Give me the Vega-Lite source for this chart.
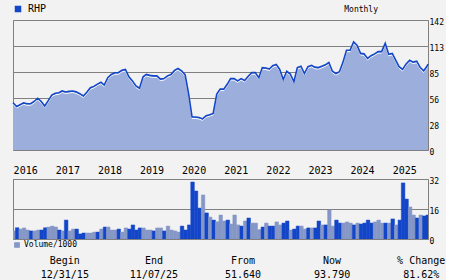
{
  "$schema": "https://vega.github.io/schema/vega-lite/v6.json",
  "background": "#f2f2f2",
  "padding": {"left": 9, "top": 3, "right": 0, "bottom": 0},
  "spacing": 0,
  "resolve": {"scale": {"color": "independent", "stroke": "independent"}, "legend": {"color": "independent", "stroke": "independent"}},
  "config": {
    "view": {"stroke": "#808080", "strokeWidth": 1},
    "font": "DejaVu Sans Mono",
    "axis": {"labelFont": "DejaVu Sans Mono", "labelColor": "#000000", "domain": false, "ticks": false, "title": null},
    "legend": {"labelFont": "DejaVu Sans Mono", "labelColor": "#000000", "padding": 0},
    "title": {"font": "DejaVu Sans Mono", "fontWeight": "normal", "color": "#000000"}
  },
  "vconcat": [
    {
      "width": 415,
      "height": 130,
      "title": {"text": "Monthly", "anchor": "end", "frame": "group", "fontSize": 8, "dx": -50, "offset": -10},
      "data": {"values": [
        {"date": "2015-12-31", "close": 51.64}, {"date": "2016-02-01", "close": 47.5}, {"date": "2016-03-01", "close": 49.5}, {"date": "2016-04-01", "close": 51.5},
        {"date": "2016-05-01", "close": 50.5}, {"date": "2016-06-01", "close": 50.5}, {"date": "2016-07-01", "close": 53}, {"date": "2016-08-01", "close": 56.5},
        {"date": "2016-09-01", "close": 53}, {"date": "2016-10-01", "close": 48}, {"date": "2016-11-01", "close": 54}, {"date": "2016-12-01", "close": 60},
        {"date": "2017-01-01", "close": 62}, {"date": "2017-02-01", "close": 62.5}, {"date": "2017-03-01", "close": 64.5}, {"date": "2017-04-01", "close": 63.3},
        {"date": "2017-05-01", "close": 64}, {"date": "2017-06-01", "close": 64.4}, {"date": "2017-07-01", "close": 63.5}, {"date": "2017-08-01", "close": 61.5},
        {"date": "2017-09-01", "close": 59}, {"date": "2017-10-01", "close": 63}, {"date": "2017-11-01", "close": 68}, {"date": "2017-12-01", "close": 69.5},
        {"date": "2018-01-01", "close": 72}, {"date": "2018-02-01", "close": 74}, {"date": "2018-03-01", "close": 71}, {"date": "2018-04-01", "close": 79},
        {"date": "2018-05-01", "close": 82.5}, {"date": "2018-06-01", "close": 84.4}, {"date": "2018-07-01", "close": 84.4}, {"date": "2018-08-01", "close": 87},
        {"date": "2018-09-01", "close": 88}, {"date": "2018-10-01", "close": 80}, {"date": "2018-11-01", "close": 75.5}, {"date": "2018-12-01", "close": 70},
        {"date": "2019-01-01", "close": 67.5}, {"date": "2019-02-01", "close": 80}, {"date": "2019-03-01", "close": 82.5}, {"date": "2019-04-01", "close": 81.5},
        {"date": "2019-05-01", "close": 81}, {"date": "2019-06-01", "close": 81}, {"date": "2019-07-01", "close": 77.5}, {"date": "2019-08-01", "close": 78},
        {"date": "2019-09-01", "close": 81}, {"date": "2019-10-01", "close": 82.5}, {"date": "2019-11-01", "close": 87}, {"date": "2019-12-01", "close": 89},
        {"date": "2020-01-01", "close": 86.5}, {"date": "2020-02-01", "close": 82}, {"date": "2020-03-01", "close": 62}, {"date": "2020-04-01", "close": 36},
        {"date": "2020-05-01", "close": 36}, {"date": "2020-06-01", "close": 35.5}, {"date": "2020-07-01", "close": 34}, {"date": "2020-08-01", "close": 37.5},
        {"date": "2020-09-01", "close": 38.5}, {"date": "2020-10-01", "close": 40}, {"date": "2020-11-01", "close": 61}, {"date": "2020-12-01", "close": 66.5},
        {"date": "2021-01-01", "close": 66.5}, {"date": "2021-02-01", "close": 72}, {"date": "2021-03-01", "close": 78}, {"date": "2021-04-01", "close": 78},
        {"date": "2021-05-01", "close": 75.5}, {"date": "2021-06-01", "close": 78}, {"date": "2021-07-01", "close": 76}, {"date": "2021-08-01", "close": 80.5},
        {"date": "2021-09-01", "close": 84.5}, {"date": "2021-10-01", "close": 84.5}, {"date": "2021-11-01", "close": 79}, {"date": "2021-12-01", "close": 90},
        {"date": "2022-01-01", "close": 89.5}, {"date": "2022-02-01", "close": 88.5}, {"date": "2022-03-01", "close": 92}, {"date": "2022-04-01", "close": 93.5},
        {"date": "2022-05-01", "close": 88}, {"date": "2022-06-01", "close": 77}, {"date": "2022-07-01", "close": 86}, {"date": "2022-08-01", "close": 83},
        {"date": "2022-09-01", "close": 74.5}, {"date": "2022-10-01", "close": 90}, {"date": "2022-11-01", "close": 91.5}, {"date": "2022-12-01", "close": 83.5},
        {"date": "2023-01-01", "close": 91}, {"date": "2023-02-01", "close": 92.5}, {"date": "2023-03-01", "close": 90.5}, {"date": "2023-04-01", "close": 90},
        {"date": "2023-05-01", "close": 91.5}, {"date": "2023-06-01", "close": 93}, {"date": "2023-07-01", "close": 95.5}, {"date": "2023-08-01", "close": 86},
        {"date": "2023-09-01", "close": 83.5}, {"date": "2023-10-01", "close": 85.5}, {"date": "2023-11-01", "close": 96}, {"date": "2023-12-01", "close": 109},
        {"date": "2024-01-01", "close": 109}, {"date": "2024-02-01", "close": 118}, {"date": "2024-03-01", "close": 114.5}, {"date": "2024-04-01", "close": 105.5},
        {"date": "2024-05-01", "close": 105}, {"date": "2024-06-01", "close": 100}, {"date": "2024-07-01", "close": 103}, {"date": "2024-08-01", "close": 105},
        {"date": "2024-09-01", "close": 107.5}, {"date": "2024-10-01", "close": 107.5}, {"date": "2024-11-01", "close": 116.5}, {"date": "2024-12-01", "close": 104.5},
        {"date": "2025-01-01", "close": 105.5}, {"date": "2025-02-01", "close": 98}, {"date": "2025-03-01", "close": 91}, {"date": "2025-04-01", "close": 88},
        {"date": "2025-05-01", "close": 94}, {"date": "2025-06-01", "close": 98}, {"date": "2025-07-01", "close": 96}, {"date": "2025-08-01", "close": 97},
        {"date": "2025-09-01", "close": 90}, {"date": "2025-10-01", "close": 86.5}, {"date": "2025-11-01", "close": 92}, {"date": "2025-11-07", "close": 93.79}
      ]},
      "encoding": {
        "x": {
          "field": "date", "type": "temporal",
          "scale": {"type": "utc", "domain": [{"year": 2015, "month": 12, "date": 31, "utc": true}, {"year": 2025, "month": 11, "date": 7, "utc": true}]},
          "axis": {"orient": "bottom", "format": "%Y", "tickCount": {"interval": "year", "step": 1}, "labelAlign": "left", "labelOffset": 0, "labelBaseline": "top", "labelPadding": 15, "labelFontSize": 10, "grid": false, "labelFlush": false}
        },
        "y": {
          "field": "close", "type": "quantitative",
          "scale": {"domain": [0, 142], "nice": false},
          "axis": {"orient": "right", "values": [0, 28.4, 56.8, 85.2, 113.6, 142], "labelExpr": "floor(datum.value)", "grid": true, "gridColor": "#808080", "gridOpacity": 1, "labelFontSize": 8, "labelPadding": 1, "labelOffset": 2}
        }
      },
      "layer": [
        {"mark": {"type": "area", "color": "#9cafdc"}},
        {"mark": {"type": "line", "color": "#ffffff", "strokeWidth": 1, "yOffset": 1.5}},
        {
          "mark": {"type": "line", "strokeWidth": 1.6},
          "encoding": {
            "stroke": {
              "datum": "RHP", "type": "nominal",
              "scale": {"range": ["#1446c8"]},
              "legend": {"orient": "top", "title": null, "symbolType": "square", "symbolSize": 25, "labelFontSize": 10, "labelOffset": 5, "offset": 5,
                "encode": {"symbols": {"update": {"fill": {"value": "#1446c8"}, "stroke": {"value": "#1446c8"}}}}}
            }
          }
        }
      ]
    },
    {
      "width": 415,
      "height": 60,
      "data": {"values": [
        {"month": "2015-12-15", "vol": 4.3, "tone": "light"}, {"month": "2016-01-15", "vol": 6.0, "tone": "dark"}, {"month": "2016-02-15", "vol": 5.3, "tone": "light"},
        {"month": "2016-03-15", "vol": 5.9, "tone": "light"}, {"month": "2016-04-15", "vol": 4.8, "tone": "light"}, {"month": "2016-05-15", "vol": 4.3, "tone": "dark"},
        {"month": "2016-06-15", "vol": 4.3, "tone": "light"}, {"month": "2016-07-15", "vol": 4.8, "tone": "light"}, {"month": "2016-08-15", "vol": 4.8, "tone": "dark"},
        {"month": "2016-09-15", "vol": 6.0, "tone": "dark"}, {"month": "2016-10-15", "vol": 6.4, "tone": "light"}, {"month": "2016-11-15", "vol": 6.9, "tone": "light"},
        {"month": "2016-12-15", "vol": 6.4, "tone": "light"}, {"month": "2017-01-15", "vol": 4.8, "tone": "dark"}, {"month": "2017-02-15", "vol": 4.3, "tone": "light"},
        {"month": "2017-03-15", "vol": 10.1, "tone": "dark"}, {"month": "2017-04-15", "vol": 4.3, "tone": "light"}, {"month": "2017-05-15", "vol": 5.3, "tone": "light"},
        {"month": "2017-06-15", "vol": 5.3, "tone": "dark"}, {"month": "2017-07-15", "vol": 2.7, "tone": "dark"}, {"month": "2017-08-15", "vol": 3.2, "tone": "dark"},
        {"month": "2017-09-15", "vol": 3.2, "tone": "light"}, {"month": "2017-10-15", "vol": 3.2, "tone": "light"}, {"month": "2017-11-15", "vol": 3.7, "tone": "light"},
        {"month": "2017-12-15", "vol": 3.7, "tone": "dark"}, {"month": "2018-01-15", "vol": 5.3, "tone": "light"}, {"month": "2018-02-15", "vol": 6.4, "tone": "dark"},
        {"month": "2018-03-15", "vol": 6.4, "tone": "light"}, {"month": "2018-04-15", "vol": 4.8, "tone": "light"}, {"month": "2018-05-15", "vol": 4.8, "tone": "light"},
        {"month": "2018-06-15", "vol": 5.3, "tone": "dark"}, {"month": "2018-07-15", "vol": 3.7, "tone": "light"}, {"month": "2018-08-15", "vol": 5.9, "tone": "light"},
        {"month": "2018-09-15", "vol": 5.3, "tone": "dark"}, {"month": "2018-10-15", "vol": 7.5, "tone": "dark"}, {"month": "2018-11-15", "vol": 4.8, "tone": "dark"},
        {"month": "2018-12-15", "vol": 5.9, "tone": "dark"}, {"month": "2019-01-15", "vol": 5.9, "tone": "light"}, {"month": "2019-02-15", "vol": 4.8, "tone": "light"},
        {"month": "2019-03-15", "vol": 4.8, "tone": "light"}, {"month": "2019-04-15", "vol": 4.3, "tone": "dark"}, {"month": "2019-05-15", "vol": 5.9, "tone": "light"},
        {"month": "2019-06-15", "vol": 5.9, "tone": "light"}, {"month": "2019-07-15", "vol": 4.3, "tone": "dark"}, {"month": "2019-08-15", "vol": 6.9, "tone": "light"},
        {"month": "2019-09-15", "vol": 4.8, "tone": "light"}, {"month": "2019-10-15", "vol": 4.3, "tone": "light"}, {"month": "2019-11-15", "vol": 3.7, "tone": "light"},
        {"month": "2019-12-15", "vol": 6.9, "tone": "dark"}, {"month": "2020-01-15", "vol": 4.8, "tone": "dark"}, {"month": "2020-02-15", "vol": 7.5, "tone": "dark"},
        {"month": "2020-03-15", "vol": 30.4, "tone": "dark"}, {"month": "2020-04-15", "vol": 25.6, "tone": "dark"}, {"month": "2020-05-15", "vol": 16.5, "tone": "dark"},
        {"month": "2020-06-15", "vol": 23.5, "tone": "light"}, {"month": "2020-07-15", "vol": 13.9, "tone": "dark"}, {"month": "2020-08-15", "vol": 11.7, "tone": "light"},
        {"month": "2020-09-15", "vol": 10.1, "tone": "dark"}, {"month": "2020-10-15", "vol": 9.2, "tone": "light"}, {"month": "2020-11-15", "vol": 12.8, "tone": "light"},
        {"month": "2020-12-15", "vol": 9.6, "tone": "light"}, {"month": "2021-01-15", "vol": 10.1, "tone": "dark"}, {"month": "2021-02-15", "vol": 8.0, "tone": "light"},
        {"month": "2021-03-15", "vol": 12.8, "tone": "light"}, {"month": "2021-04-15", "vol": 7.5, "tone": "light"}, {"month": "2021-05-15", "vol": 6.9, "tone": "dark"},
        {"month": "2021-06-15", "vol": 9.6, "tone": "light"}, {"month": "2021-07-15", "vol": 11.2, "tone": "dark"}, {"month": "2021-08-15", "vol": 8.5, "tone": "light"},
        {"month": "2021-09-15", "vol": 8.5, "tone": "light"}, {"month": "2021-10-15", "vol": 5.0, "tone": "light"}, {"month": "2021-11-15", "vol": 6.4, "tone": "dark"},
        {"month": "2021-12-15", "vol": 8.5, "tone": "light"}, {"month": "2022-01-15", "vol": 6.9, "tone": "dark"}, {"month": "2022-02-15", "vol": 6.9, "tone": "dark"},
        {"month": "2022-03-15", "vol": 9.1, "tone": "light"}, {"month": "2022-04-15", "vol": 7.5, "tone": "light"}, {"month": "2022-05-15", "vol": 8.5, "tone": "dark"},
        {"month": "2022-06-15", "vol": 9.6, "tone": "dark"}, {"month": "2022-07-15", "vol": 4.8, "tone": "light"}, {"month": "2022-08-15", "vol": 5.3, "tone": "dark"},
        {"month": "2022-09-15", "vol": 6.9, "tone": "dark"}, {"month": "2022-10-15", "vol": 6.9, "tone": "light"}, {"month": "2022-11-15", "vol": 5.3, "tone": "light"},
        {"month": "2022-12-15", "vol": 5.9, "tone": "dark"}, {"month": "2023-01-15", "vol": 5.9, "tone": "light"}, {"month": "2023-02-15", "vol": 5.9, "tone": "dark"},
        {"month": "2023-03-15", "vol": 9.6, "tone": "dark"}, {"month": "2023-04-15", "vol": 7.5, "tone": "light"}, {"month": "2023-05-15", "vol": 7.5, "tone": "dark"},
        {"month": "2023-06-15", "vol": 15.5, "tone": "light"}, {"month": "2023-07-15", "vol": 6.9, "tone": "light"}, {"month": "2023-08-15", "vol": 10.1, "tone": "dark"},
        {"month": "2023-09-15", "vol": 8.5, "tone": "dark"}, {"month": "2023-10-15", "vol": 8.5, "tone": "light"}, {"month": "2023-11-15", "vol": 9.1, "tone": "light"},
        {"month": "2023-12-15", "vol": 8.5, "tone": "light"}, {"month": "2024-01-15", "vol": 7.5, "tone": "dark"}, {"month": "2024-02-15", "vol": 8.5, "tone": "light"},
        {"month": "2024-03-15", "vol": 8.0, "tone": "dark"}, {"month": "2024-04-15", "vol": 8.5, "tone": "dark"}, {"month": "2024-05-15", "vol": 10.1, "tone": "dark"},
        {"month": "2024-06-15", "vol": 8.5, "tone": "dark"}, {"month": "2024-07-15", "vol": 9.1, "tone": "light"}, {"month": "2024-08-15", "vol": 10.1, "tone": "light"},
        {"month": "2024-09-15", "vol": 8.5, "tone": "light"}, {"month": "2024-10-15", "vol": 8.5, "tone": "dark"}, {"month": "2024-11-15", "vol": 8.5, "tone": "light"},
        {"month": "2024-12-15", "vol": 10.7, "tone": "dark"}, {"month": "2025-01-15", "vol": 7.5, "tone": "light"}, {"month": "2025-02-15", "vol": 10.1, "tone": "dark"},
        {"month": "2025-03-15", "vol": 29.9, "tone": "dark"}, {"month": "2025-04-15", "vol": 21.3, "tone": "dark"}, {"month": "2025-05-15", "vol": 17.1, "tone": "light"},
        {"month": "2025-06-15", "vol": 12.8, "tone": "light"}, {"month": "2025-07-15", "vol": 11.2, "tone": "dark"}, {"month": "2025-08-15", "vol": 12.8, "tone": "light"},
        {"month": "2025-09-15", "vol": 12.3, "tone": "dark"}, {"month": "2025-10-15", "vol": 12.8, "tone": "dark"}
      ]},
      "mark": {"type": "bar", "clip": true, "binSpacing": 0, "xOffset": 1.75, "x2Offset": 1.75, "strokeWidth": 0.5},
      "encoding": {
        "x": {
          "field": "month", "timeUnit": "utcyearmonth", "type": "temporal",
          "scale": {"domain": [{"year": 2015, "month": 12, "date": 31, "utc": true}, {"year": 2025, "month": 11, "date": 7, "utc": true}]},
          "axis": null
        },
        "y": {
          "field": "vol", "type": "quantitative",
          "scale": {"domain": [0, 32], "nice": false},
          "axis": {"orient": "right", "values": [0, 16, 32], "grid": true, "gridColor": "#808080", "gridOpacity": 1, "labelFontSize": 8, "labelPadding": 1, "labelOffset": 2}
        },
        "color": {
          "field": "tone", "type": "nominal",
          "scale": {"domain": ["light", "dark"], "range": ["#8597c6", "#1245c8"]},
          "legend": {"orient": "bottom", "values": ["light"], "labelExpr": "'Volume/1000'", "title": null, "symbolType": "square", "symbolSize": 18, "labelFontSize": 8, "labelOffset": 3, "offset": 2}
        },
        "stroke": {
          "field": "tone", "type": "nominal",
          "scale": {"domain": ["light", "dark"], "range": ["#8597c6", "#1245c8"]},
          "legend": null
        }
      }
    },
    {
      "width": 415,
      "height": 32,
      "view": {"stroke": null},
      "data": {"values": [
        {"col": "Begin", "row": "head", "txt": "Begin"}, {"col": "Begin", "row": "value", "txt": "12/31/15"},
        {"col": "End", "row": "head", "txt": "End"}, {"col": "End", "row": "value", "txt": "11/07/25"},
        {"col": "From", "row": "head", "txt": "From"}, {"col": "From", "row": "value", "txt": "51.640"},
        {"col": "Now", "row": "head", "txt": "Now"}, {"col": "Now", "row": "value", "txt": "93.790"},
        {"col": "Change", "row": "head", "txt": "% Change"}, {"col": "Change", "row": "value", "txt": "81.62%"}
      ]},
      "mark": {"type": "text", "fontSize": 10, "font": "DejaVu Sans Mono", "color": "#000000"},
      "encoding": {
        "x": {"field": "col", "type": "nominal", "sort": null, "axis": null, "scale": {"type": "point", "padding": 0.329, "align": 0.884}},
        "y": {"field": "row", "type": "nominal", "sort": null, "axis": null, "scale": {"type": "point", "padding": 0.643}},
        "text": {"field": "txt"}
      }
    }
  ]
}
